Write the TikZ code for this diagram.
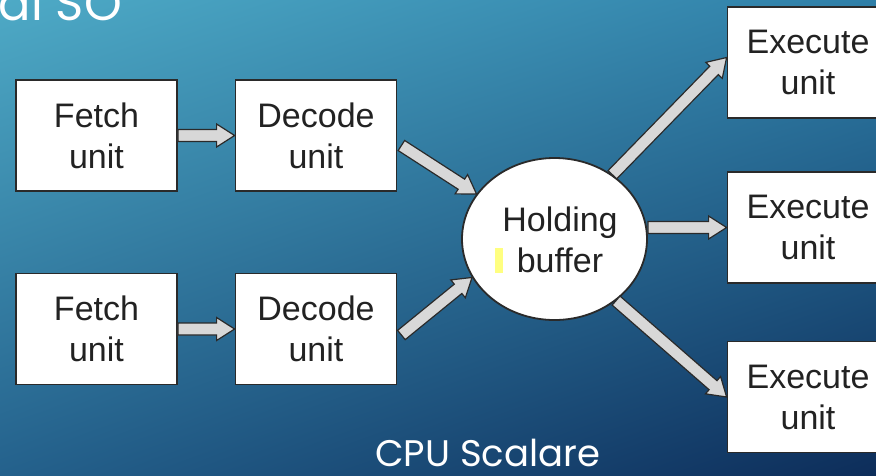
\documentclass[tikz,border=0pt]{standalone}
\usepackage{fontspec}
\setmainfont{Liberation Sans}
\newfontfamily\titlefont{Poppins}
\usetikzlibrary{calc,shapes.geometric,shadings}
\definecolor{bgUL}{HTML}{4EAAC6}
\definecolor{bgUR}{HTML}{2F7FA8}
\definecolor{bgLL}{HTML}{24618C}
\definecolor{bgLR}{HTML}{0D2D5A}
\definecolor{arrfill}{HTML}{D8D8D8}
\definecolor{arrline}{HTML}{2A2A2A}
\definecolor{txt}{HTML}{222222}
\definecolor{hlyellow}{HTML}{FFFF80}
\tikzset{
  unitbox/.style={draw=arrline, line width=1.8pt, fill=white, rectangle,
    minimum width=161pt, minimum height=111pt, inner sep=0pt,
    align=center, text=txt, font=\fontsize{34}{41}\selectfont},
  holdbox/.style={draw=arrline, line width=1.8pt, fill=white, ellipse,
    minimum width=185pt, minimum height=162pt, inner sep=0pt},
  fatarr/.style={fill=arrfill, draw=arrline, line width=1.2pt, line join=miter},
  slidetext/.style={text=white, inner sep=0pt}
}
\newcommand\fatarrow[2]{%
  \coordinate (fA) at (#1);
  \coordinate (fB) at (#2);
  \coordinate (fH) at ($(fB)!18pt!(fA)$);
  \filldraw[fatarr] ($(fA)!6pt!90:(fB)$) -- ($(fH)!6pt!90:(fB)$)
    -- ($(fH)!11.5pt!90:(fB)$) -- (fB) -- ($(fH)!11.5pt!-90:(fB)$)
    -- ($(fH)!6pt!-90:(fB)$) -- ($(fA)!6pt!-90:(fB)$) -- cycle;}
\begin{document}
\begin{tikzpicture}[x=1pt,y=1pt]
\useasboundingbox (0,0) rectangle (876,-475);
\clip (0,0) rectangle (876,-475);
\shade[upper left=bgUL, upper right=bgUR, lower left=bgLL, lower right=bgLR]
  (0,0) rectangle (876,-475);

\node[slidetext, anchor=base east, font=\titlefont\fontsize{48}{54}\selectfont]
  (ttl) at (122,-20) {al SO};

\node[unitbox] (f1) at (96.5,-135.5) {Fetch\\unit};
\node[unitbox] (d1) at (316,-135.5) {Decode\\unit};
\node[unitbox] (f2) at (96.5,-329) {Fetch\\unit};
\node[unitbox] (d2) at (316,-329) {Decode\\unit};
\node[holdbox] (hb) at (554.5,-239) {};
\node[align=center, text=txt, inner sep=0pt, font=\fontsize{34}{41}\selectfont]
  (hbt) at (560,-240) {Holding\\buffer};
\fill[hlyellow] (495,-248) rectangle (503,-273);
\node[unitbox] (e1) at (808,-62.5) {Execute\\unit};
\node[unitbox] (e2) at (808,-227.5) {Execute\\unit};
\node[unitbox] (e3) at (808,-397) {Execute\\unit};

\fatarrow{f1.east}{d1.west}
\fatarrow{f2.east}{d2.west}
\fatarrow{$(d1.east)+(4,-10)$}{hb.150}
\fatarrow{$(d2.east)+(4,-6)$}{hb.205}
\fatarrow{hb.48}{$(e1.west)+(0,5)$}
\fatarrow{hb.east |- e2.west}{e2.west}
\fatarrow{hb.-45}{e3.west}

\node[slidetext, anchor=base west, font=\titlefont\fontsize{37}{42}\selectfont]
  (cap) at (375,-466) {CPU Scalare};
\end{tikzpicture}
\end{document}
